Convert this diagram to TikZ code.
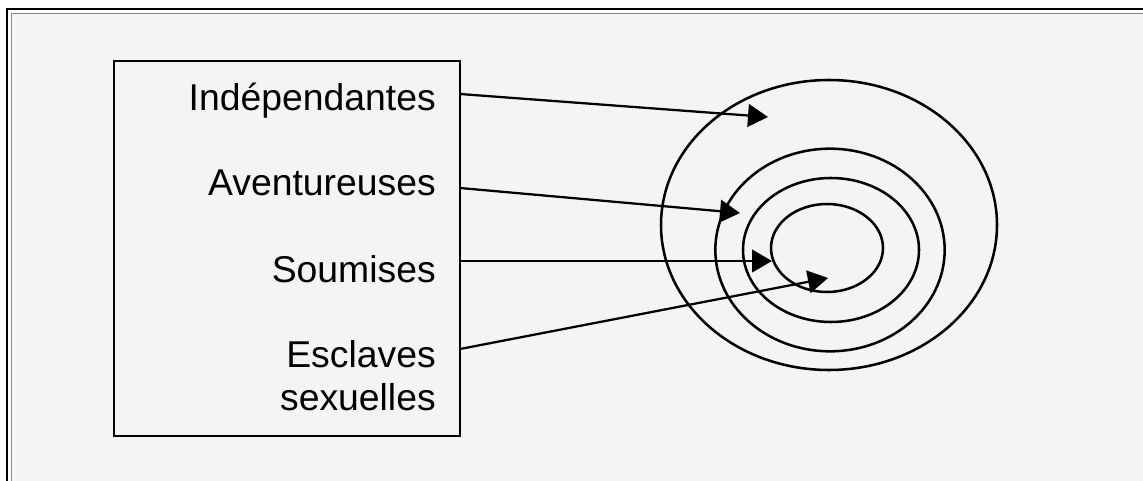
\documentclass[tikz,border=0pt]{standalone}
\usepackage{fontspec}
\setmainfont{Liberation Sans}
\usetikzlibrary{arrows.meta, positioning, shapes.geometric}
\definecolor{paper}{HTML}{F4F4F4}
\definecolor{rule}{HTML}{8A8A8A}

\begin{document}
\begin{tikzpicture}[
        x=0.75pt, y=-0.75pt,
        >={Triangle[length=15pt, width=17pt]},
        catlabel/.style={anchor=base east, inner sep=0pt, align=right, font=\fontsize{28}{32.25}\selectfont},
        ring/.style={ellipse, draw, line width=1.9pt, inner sep=0pt},
        link/.style={->, line width=1.7pt}
    ]
    % --- page and frame ---
    \useasboundingbox (0,0) rectangle (1143,481);
    \fill[white] (0,0) rectangle (1143,481);
    \fill[paper] (12,14) rectangle (1143,481);
    \draw[line width=2.2pt] (7,481) -- (7,9) -- (1143,9);
    \draw[rule, line width=1.1pt] (11.5,481) -- (11.5,13.5) -- (1143,13.5);

    % --- box of categories ---
    \node[draw, line width=1.5pt, minimum width=259.5pt, minimum height=281.25pt] (box) at (287,248.5) {};
    \node[catlabel] (indep) at (436,111) {Indépendantes};
    \node[catlabel] (avent) at (436,196) {Aventureuses};
    \node[catlabel] (soum) at (436,282) {Soumises};
    \node[catlabel] (escl) at (436,410) {Esclaves\\sexuelles};

    % --- concentric rings ---
    \node[ring, minimum width=252pt, minimum height=217.5pt] (ringA) at (829,225) {};
    \node[ring, minimum width=172pt, minimum height=152pt] (ringB) at (830,250) {};
    \node[ring, minimum width=132pt, minimum height=108pt] (ringC) at (831,250) {};
    \node[ring, minimum width=84pt, minimum height=66pt] (ringD) at (827,248) {};

    % --- arrow ends ---
    \coordinate (fromA) at (460,94);
    \coordinate (fromB) at (460,188);
    \coordinate (fromC) at (460,261);
    \coordinate (fromD) at (460,349);
    \coordinate (toA) at (768,117);
    \coordinate (toB) at (740,213);
    \coordinate (toC) at (772,261);
    \coordinate (toD) at (828,278);

    % --- arrows ---
    \draw[link] (fromA) -- (toA);
    \draw[link] (fromB) -- (toB);
    \draw[link] (fromC) -- (toC);
    \draw[link] (fromD) -- (toD);
\end{tikzpicture}
\end{document}
